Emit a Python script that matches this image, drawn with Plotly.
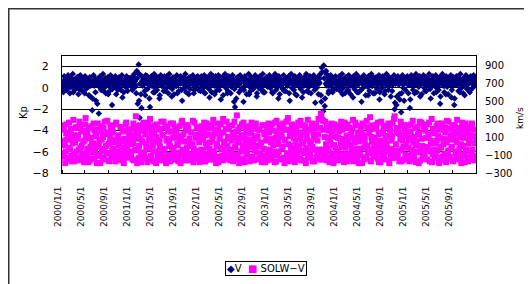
import pandas as pd
import plotly.graph_objects as go

# V (left axis): two 5-day sample sets per year (a: from Jan 1, b: from Jan 3)
v_2000 = [0.0,0.5,0.2,0.8,0.4,-0.2,0.6,0.9,0.3,0.1,0.7,0.5,-0.4,0.8,0.2,0.6,1.0,0.3,-0.1,0.5,0.9,0.4,0.2,0.7,-0.5,0.6,0.3,0.8,0.1,0.5,-0.8,0.4,-2.1,0.6,0.2,0.9,-1.2,0.3,0.7,-2.4,0.5,0.1,0.8,0.4,-0.3,0.6,0.9,0.2,0.5,-0.6,0.7,0.3,1.0,-1.6,0.4,0.6,0.1,0.8,0.5,-0.2,0.7,0.3,0.9,0.4,-0.9,0.6,0.2,0.8,0.5,0.1,0.7,0.4,0.6]
v_2001 = [0.5,0.8,0.3,1.0,0.6,0.2,1.6,-1.5,2.2,-2.8,1.2,-1.9,0.7,0.4,0.9,-0.7,0.5,1.1,0.3,0.8,-1.8,0.6,0.2,0.9,0.5,-0.4,0.7,1.0,0.3,0.6,-1.0,0.8,0.4,0.2,0.9,0.5,-0.3,0.7,1.1,0.4,0.6,0.1,0.8,-0.8,0.5,0.9,0.3,0.7,0.2,-0.5,0.6,1.0,0.4,0.8,-1.2,0.5,0.3,0.9,0.6,0.2,0.7,-0.6,0.4,1.0,0.5,0.8,0.3,-0.2,0.6,0.9,0.4,0.7,0.5]
v_2002 = [0.6,0.3,0.9,0.5,-0.4,0.7,0.2,1.0,0.4,0.8,-0.9,0.5,0.3,0.7,1.1,0.2,0.6,-0.3,0.9,0.4,0.7,0.5,-1.1,0.8,0.3,0.6,1.0,0.2,0.5,-0.5,0.7,0.4,0.9,0.1,0.6,0.8,-1.3,-1.8,0.5,0.3,0.7,1.0,0.4,-0.2,0.6,0.9,-1.3,0.5,0.2,0.8,0.4,0.7,-0.6,0.3,0.9,0.5,0.1,0.6,1.0,0.4,-0.8,0.7,0.3,0.5,0.9,0.2,0.6,-0.4,0.8,0.4,0.7,0.3,0.5]
v_2003 = [0.5,0.8,0.2,0.6,-0.5,0.9,0.4,0.7,0.3,1.0,-1.0,0.5,0.8,0.2,0.6,0.4,-0.3,0.9,0.7,0.3,0.5,1.1,-1.2,0.6,0.4,0.8,0.2,0.7,-0.6,0.5,0.9,0.3,0.6,1.0,0.4,-0.9,0.7,0.2,0.8,0.5,0.3,0.6,-0.4,0.9,0.4,0.7,1.0,0.2,0.5,-1.4,0.8,0.3,0.6,0.4,0.9,-0.7,1.9,-2.9,2.1,-1.7,0.4,1.3,0.6,-0.5,0.8,0.3,0.7,0.5,-0.2,0.9,0.4,0.6,0.3]
v_2004 = [0.4,0.7,0.2,0.9,0.5,-0.6,0.8,0.3,0.6,1.0,0.4,-0.3,0.7,0.2,0.9,0.5,-0.9,0.6,0.3,0.8,0.4,0.7,-0.4,0.5,0.9,-1.3,0.6,0.3,0.8,0.2,0.7,0.5,-0.7,0.9,0.4,0.6,0.2,1.0,0.5,-0.5,0.7,0.3,0.8,0.4,-1.1,0.6,0.9,0.2,0.5,0.7,-0.3,0.4,0.8,0.6,0.2,0.9,-0.8,0.5,0.3,0.7,-2.0,0.4,-1.6,0.8,0.5,-0.6,0.6,-2.3,0.9,0.3,-1.2,0.7,0.5]
v_2005 = [0.6,0.3,0.8,-1.9,0.5,0.2,0.9,0.4,-0.5,0.7,0.3,0.6,1.0,0.2,-0.8,0.5,0.8,0.4,0.7,-0.3,0.6,0.2,0.9,0.5,0.3,-1.0,0.7,0.4,0.8,0.2,0.6,-0.4,0.5,0.9,0.3,-1.5,0.7,0.4,0.6,1.0,0.2,-0.6,0.8,0.5,0.3,0.7,0.4,-0.9,0.6,0.2,-1.6,0.8,0.5,0.3,0.9,0.4,-0.4,0.7,0.6,0.2,0.8,-0.7,0.5,0.3,0.9,0.4,0.6,-0.2,0.7,0.5,0.3,0.8,0.4]

vb_2000 = [0.3,-0.4,1.1,0.2,0.7,-0.1,1.2,0.4,-0.5,0.9,0.1,1.3,0.5,-0.2,0.8,0.0,1.0,-0.6,0.6,1.2,0.2,-0.3,0.9,0.5,1.1,-0.1,0.4,0.8,-0.7,1.0,0.2,0.6,-1.0,1.2,0.3,-0.4,0.7,-1.5,0.9,0.1,1.1,-0.2,0.5,1.3,0.0,0.8,-0.5,0.4,1.0,0.2,-0.3,1.2,0.6,-0.1,0.9,0.3,1.1,-0.6,0.7,0.0,1.0,0.4,-0.2,1.2,0.5,-0.4,0.8,0.1,1.1,-0.3,0.6,0.9,0.2]
vb_2001 = [1.0,-0.2,0.6,1.3,0.1,-0.5,0.9,1.4,-1.2,0.4,-0.6,1.1,0.2,0.8,-0.3,1.2,0.5,-0.1,0.9,-1.0,0.3,1.1,0.6,-0.4,1.3,0.0,0.7,-0.2,1.0,0.4,-0.7,1.2,0.2,0.8,-0.3,1.1,0.5,0.0,0.9,-0.5,1.3,0.3,0.6,-0.1,1.0,-0.6,0.8,0.2,1.2,0.4,-0.3,0.7,1.1,-0.2,0.5,0.9,0.0,1.3,-0.4,0.6,0.2,1.0,-0.1,0.8,0.4,1.2,-0.5,0.3,0.9,0.1,1.1,-0.2,0.6]
vb_2002 = [-0.3,1.1,0.4,0.0,1.2,-0.5,0.8,0.2,1.0,-0.1,0.6,1.3,-0.4,0.3,0.9,-0.6,1.1,0.5,0.1,1.2,-0.2,0.7,0.3,1.0,-0.7,0.6,1.3,0.0,0.9,-0.3,1.1,0.4,-0.5,0.8,1.2,0.2,-0.1,0.5,-1.0,1.0,0.3,-0.4,1.2,0.6,0.0,0.9,-0.2,1.1,0.4,-0.6,0.7,1.3,0.1,-0.3,1.0,0.5,-0.1,0.8,1.2,0.3,-0.5,0.9,0.0,1.1,0.6,-0.2,1.3,0.2,-0.4,0.7,1.0,0.1,0.8]
vb_2003 = [1.2,0.0,0.7,-0.4,1.0,0.3,1.3,-0.2,0.6,0.1,1.1,-0.6,0.8,0.4,-0.1,1.2,0.5,-0.3,0.9,0.2,1.0,-0.5,0.7,1.3,0.0,0.4,-0.2,1.1,0.6,-0.7,0.9,0.2,1.2,-0.1,0.5,0.8,-0.4,1.0,0.3,1.3,-0.3,0.6,0.1,1.1,-0.5,0.7,0.4,1.2,-0.2,0.9,0.0,1.0,-0.6,0.5,1.3,-1.3,1.5,-2.2,0.9,-1.0,1.6,0.2,1.0,-0.3,0.7,1.2,0.1,-0.4,0.9,0.5,1.1,-0.1,0.6]
vb_2004 = [0.1,1.1,-0.3,0.6,1.3,0.0,0.8,-0.5,1.0,0.4,-0.2,1.2,0.5,-0.6,0.9,0.2,1.1,-0.1,0.7,1.3,-0.4,0.3,1.0,0.6,-0.2,0.9,0.0,1.2,0.4,-0.7,0.8,0.1,1.1,-0.3,0.5,1.3,0.2,-0.5,0.9,0.6,1.0,-0.1,0.3,1.2,-0.4,0.7,0.0,1.1,0.5,-0.6,0.8,1.3,0.2,-0.2,1.0,0.4,0.9,-0.3,0.6,1.2,-1.4,0.8,-0.8,1.1,0.3,-1.1,0.9,-0.5,1.2,0.0,0.7,-0.2,1.0]
vb_2005 = [1.1,-0.5,0.4,-1.1,1.2,0.7,-0.2,1.0,0.3,1.3,-0.4,0.8,0.1,1.1,0.5,-0.6,0.9,1.2,0.0,0.6,-0.3,1.0,0.4,1.3,-0.1,0.7,0.2,1.1,-0.5,0.9,1.2,0.0,0.5,-0.2,1.0,-0.8,0.6,1.3,0.2,-0.4,0.8,1.1,0.1,-0.6,0.9,0.4,1.2,-0.2,0.7,1.0,-1.0,0.3,1.1,0.6,-0.3,0.9,1.3,0.0,0.5,-0.5,1.0,0.2,1.2,-0.1,0.7,0.4,-0.4,1.1,0.8,0.0,1.2,0.3,0.9]

# SOLW-V (right axis, km/s)
s_2000 = [60,-120,180,20,-60,240,-150,100,-20,150,-170,80,290,-90,40,200,-130,120,-40,230,-160,0,170,-100,60,310,-70,140,-180,90,-10,220,-140,30,180,-60,110,-190,250,0,-110,160,70,-150,200,-30,130,-80,280,20,-170,90,190,-50,150,-120,40,240,-90,110,-160,60,210,-20,-140,170,80,-70,260,10,-130,140,50]
s_2001 = [-100,190,30,-160,120,330,-50,220,-130,80,170,-180,40,260,-90,130,-20,200,-150,70,300,-110,150,10,-170,230,-60,100,-140,180,50,-80,270,-120,120,-30,210,-190,60,160,-100,0,250,-150,90,-40,190,-130,140,30,-170,220,-70,110,280,-110,50,-160,170,-20,230,-90,80,-140,150,20,-180,260,-60,120,-120,200,40]
s_2002 = [-140,100,220,-60,160,-170,30,250,-100,130,-30,200,-150,60,290,-80,140,-190,20,180,-120,90,240,-40,-160,150,50,-110,270,0,-130,190,80,-70,230,-170,110,-20,160,340,-100,40,210,-150,120,-50,260,-180,70,170,-90,30,220,-130,140,-10,190,-160,80,250,-70,100,-140,180,20,-110,230,-40,130,-180,60,200,-90]
s_2003 = [150,-120,40,240,-60,170,-180,90,280,-100,20,200,-150,130,-30,250,-130,70,180,-90,310,-170,110,0,220,-60,140,-140,60,190,-110,260,-20,100,-160,230,30,-80,170,-190,120,290,-50,50,-130,210,-10,150,-170,80,240,-100,130,-40,200,360,-150,280,-60,100,-120,230,-30,170,-180,60,250,-90,120,10,-140,190,-70]
s_2004 = [90,-160,220,30,-90,180,-140,260,-20,110,-170,60,200,-110,150,-50,290,-130,40,230,-80,120,-190,80,170,-30,250,-150,100,10,-120,210,-60,140,320,-170,50,190,-100,90,-40,240,-140,130,0,-180,270,-70,160,-120,30,220,-20,110,-160,190,-90,60,250,-130,330,-50,150,-110,200,-170,80,240,-30,120,-150,180,20]
s_2005 = [-110,230,70,-150,160,-40,280,-120,100,-180,50,210,-70,140,-160,260,0,-100,190,-140,90,240,-30,130,-170,60,300,-90,170,-130,30,220,-50,110,-190,180,-10,250,-120,80,-160,200,40,-80,270,-140,120,-20,230,-170,70,160,-100,290,-60,140,-150,20,210,-110,90,-180,250,-40,150,-130,60,190,-70,230,-160,110,30]

sb_2000 = [230,-80,10,-190,140,70,-130,260,-40,190,-110,30,120,-170,210,-60,80,-150,270,-20,160,-90,50,-180,240,110,-120,-30,200,-160,90,20,-70,250,-140,130,-10,-100,180,60,-190,220,-50,100,-130,270,0,-80,150,-160,40,230,-110,190,-30,70,-170,260,-60,120,10,-140,210,-90,160,-190,50,240,-20,-120,180,90,-60]
sb_2001 = [20,-150,250,80,-40,170,-190,110,0,230,-110,60,-70,200,-140,140,30,-180,260,-30,90,-120,210,-60,150,40,-190,240,-90,60,-10,190,-160,120,270,-50,-130,80,220,-100,30,-170,160,-20,250,-80,100,-150,200,10,-110,70,-190,260,-40,130,-120,230,-70,50,190,-160,0,150,-100,280,-30,-140,90,210,-60,130,-180]
sb_2002 = [190,-40,-120,70,260,-170,120,-10,200,-90,40,-150,230,110,-60,170,-130,0,250,-180,80,-20,150,-110,300,30,-70,190,-150,100,220,-40,-160,60,140,-100,270,-10,-130,50,180,-190,90,-60,240,10,-140,120,200,-80,-20,160,-170,70,260,-120,30,-50,210,-150,110,0,180,-90,40,-180,230,-30,-110,150,80,-160,250]
sb_2003 = [-40,200,-150,80,10,-100,260,-170,130,50,-60,230,-140,100,-10,190,-190,60,270,-80,20,-130,160,-30,240,-110,90,-180,210,0,-70,150,-140,280,40,-50,120,-160,220,-20,70,-120,180,-90,30,250,-170,110,-40,200,-130,60,300,-80,-150,330,-40,180,-110,270,20,-160,90,-60,210,-130,150,10,-190,240,-20,100,-140]
sb_2004 = [-50,160,-120,270,-10,80,-180,200,40,-90,240,-150,120,10,-60,190,-170,90,260,-30,-130,150,50,-100,220,-190,130,-20,70,-140,280,0,-80,170,-160,100,230,-40,20,-120,190,-70,260,-180,60,140,-10,-110,210,-150,90,30,-60,250,-190,170,-30,110,-130,300,-80,20,200,-120,140,-50,270,-170,60,-10,230,-100,110]
sb_2005 = [160,-20,-170,110,240,-90,40,-140,200,10,-60,130,-190,270,-30,80,-120,220,-80,170,-10,-150,110,260,-60,30,-180,190,-40,140,-110,60,250,-170,90,-20,-130,210,20,-90,150,-180,280,-50,70,-120,190,-10,-160,120,230,-70,40,-140,200,-30,100,-190,260,0,-100,150,-60,210,-170,30,120,-130,250,-40,-110,180,60]

years = [2000, 2001, 2002, 2003, 2004, 2005]
v_sets = [([v_2000, v_2001, v_2002, v_2003, v_2004, v_2005], "01"),
          ([vb_2000, vb_2001, vb_2002, vb_2003, vb_2004, vb_2005], "03")]
s_sets = [([s_2000, s_2001, s_2002, s_2003, s_2004, s_2005], "01"),
          ([sb_2000, sb_2001, sb_2002, sb_2003, sb_2004, sb_2005], "03")]

tick_dates = pd.date_range("2000-01-01", "2005-09-01", freq="4MS")
tick_text = [f"{d.year}/{d.month}/1" for d in tick_dates]

def build(sets):
    xs, ys = [], []
    for lists, day in sets:
        for y, vals in zip(years, lists):
            d = pd.date_range(f"{y}-01-{day}", periods=len(vals), freq="5D")
            xs += list(d)
            ys += vals
    return xs, ys

vx, vy = build(v_sets)
sx, sy = build(s_sets)

FONT = "DejaVu Sans"
NAVY = "#000080"
PINK = "#FF00FF"

fig = go.Figure()
fig.add_trace(go.Scatter(x=vx, y=vy, mode="markers", name="V",
                         marker=dict(symbol="diamond", size=5, color=NAVY)))
fig.add_trace(go.Scatter(x=sx, y=sy, mode="markers", name="SOLW−V", yaxis="y2",
                         marker=dict(symbol="square", size=6, color=PINK)))

# The page body has an 8px default margin: the figure starts at screen (8, 8).
OFF = 8
W, H = 532 - OFF, 284 - OFF
L, T, PW, PH = 62, 56, 414, 117  # plot area in screen pixels


def px(x):
    return (x - L) / PW


def py(y):
    return (T + PH - y) / PH


CLEAR = "rgba(0,0,0,0)"
fig.update_layout(
    width=W, height=H,
    margin=dict(l=L - OFF, r=W - (L - OFF) - PW, t=T - OFF,
                b=H - (T - OFF) - PH, autoexpand=False),
    paper_bgcolor="white", plot_bgcolor="white",
    font=dict(family=FONT, size=10, color="black"),
    showlegend=False,
    xaxis=dict(type="date", range=["2000-01-01", "2006-01-01"],
               tickvals=list(tick_dates), ticktext=tick_text, tickangle=-90,
               ticks="outside", ticklen=9, tickcolor=CLEAR,
               ticklabelshift=-4,
               minor=dict(tickvals=list(tick_dates), ticks="inside", ticklen=3,
                          tickcolor="black", showgrid=False),
               showgrid=False, showline=True, linecolor="black", linewidth=1,
               mirror=True, zeroline=False, tickfont=dict(size=9),
               automargin=False),
    yaxis=dict(range=[-8, 3], tickvals=[-8, -6, -4, -2, 0, 2],
               showgrid=True, gridcolor="black", gridwidth=1,
               showline=True, linecolor="black", linewidth=1, zeroline=False,
               ticks="outside", ticklen=10, tickcolor=CLEAR,
               tickfont=dict(size=11), automargin=False),
    yaxis2=dict(range=[-300, 1000], tickvals=[-300, -100, 100, 300, 500, 700, 900],
                overlaying="y", side="right", showgrid=False,
                showline=True, linecolor="black", linewidth=1, zeroline=False,
                ticks="outside", ticklen=6, tickcolor=CLEAR,
                tickfont=dict(size=10), automargin=False),
    annotations=[
        dict(text="Kp", textangle=-90, xref="paper", yref="paper",
             x=px(23), y=py(113), xanchor="center", yanchor="middle",
             showarrow=False, font=dict(size=10)),
        dict(text="km/s", textangle=-90, xref="paper", yref="paper",
             x=px(520), y=py(118), xanchor="center", yanchor="middle",
             showarrow=False, font=dict(size=9)),
        dict(text=(f"<span style='color:{NAVY}'>◆</span>V  "
                   f"<span style='color:{PINK}'>■</span> SOLW−V"),
             xref="paper", yref="paper", x=px(266), y=py(268),
             xanchor="center", yanchor="middle",
             showarrow=False, bordercolor="black", borderwidth=1, borderpad=1,
             font=dict(size=10)),
    ],
    shapes=[
        dict(type="rect", xref="paper", yref="paper",
             x0=px(OFF + 0.75), x1=1.5, y0=-1.5, y1=py(OFF + 0.75),
             line=dict(color="#333333", width=1.5), fillcolor=CLEAR,
             layer="below"),
    ],
)

fig.write_html("out.html")
